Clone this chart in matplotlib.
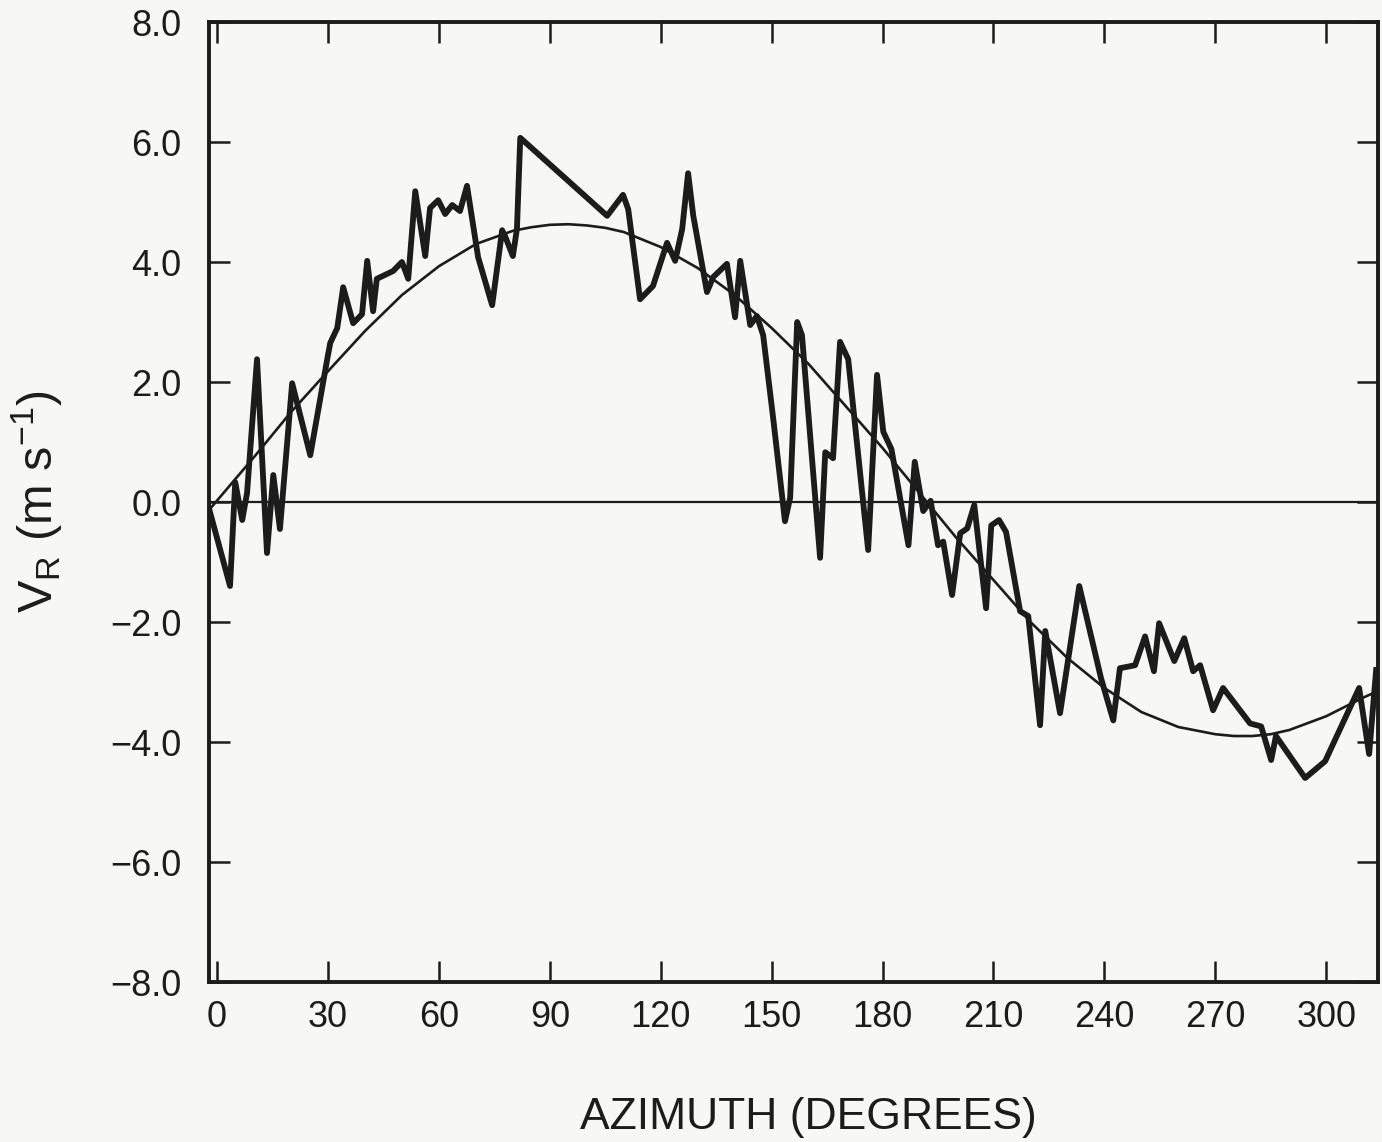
#!/usr/bin/env python3
"""Radial velocity vs. azimuth with a fitted sinusoid."""

import matplotlib
matplotlib.use("Agg")
import matplotlib.pyplot as plt

plt.rcParams["font.family"] = ["Liberation Sans", "DejaVu Sans"]
plt.rcParams["mathtext.fontset"] = "custom"
plt.rcParams["mathtext.rm"] = "Liberation Sans"
plt.rcParams["mathtext.it"] = "Liberation Sans"

INK = "#1c1c1c"
PAPER = "#f7f7f5"

# observed radial velocity along the azimuth sweep (deg, m/s)
obs_az = [
    -2.0, 3.5, 4.9, 6.8, 8.1, 10.8, 13.5, 15.2, 17.0, 20.3, 25.2, 29.7, 30.6,
    32.5, 34.1, 36.8, 39.2, 40.6, 42.2, 43.2, 47.6, 50.0, 51.7, 53.6, 56.3,
    57.6, 59.8, 61.7, 63.6, 65.7, 67.6, 70.6, 74.4, 77.1, 77.9, 80.0, 81.1,
    82.0, 105.5, 109.8, 111.2, 114.4, 117.9, 121.7, 123.9, 125.8, 127.4, 128.8,
    132.5, 134.2, 137.9, 140.1, 141.5, 144.2, 146.0, 147.7, 150.4, 153.6, 155.0,
    156.9, 158.2, 163.1, 164.5, 166.6, 168.5, 170.7, 176.1, 178.5, 180.2, 182.4,
    187.0, 188.7, 191.0, 193.0, 195.0, 196.4, 198.8, 201.0, 202.9, 204.8, 208.0,
    209.4, 211.5, 213.4, 217.2, 219.4, 222.6, 224.0, 228.0, 233.2, 239.1, 242.4,
    244.2, 248.3, 251.0, 253.4, 254.8, 258.9, 261.6, 264.0, 265.9, 269.4, 272.1,
    279.4, 282.4, 285.1, 286.4, 294.3, 299.7, 308.9, 311.6, 313.5,
]
obs_vr = [
    -0.15, -1.4, 0.33, -0.3, 0.15, 2.38, -0.85, 0.45, -0.45, 1.98, 0.78, 2.35,
    2.65, 2.9, 3.58, 2.98, 3.13, 4.02, 3.18, 3.72, 3.85, 4.0, 3.72, 5.18, 4.1,
    4.9, 5.03, 4.8, 4.95, 4.85, 5.27, 4.08, 3.28, 4.53, 4.43, 4.1, 4.55, 6.07,
    4.77, 5.12, 4.88, 3.38, 3.6, 4.32, 4.02, 4.55, 5.48, 4.77, 3.5, 3.75, 3.97,
    3.08, 4.02, 2.95, 3.1, 2.78, 1.4, -0.32, 0.07, 3.0, 2.78, -0.93, 0.83, 0.73,
    2.67, 2.38, -0.8, 2.12, 1.17, 0.88, -0.72, 0.67, -0.15, 0.02, -0.72, -0.66,
    -1.55, -0.52, -0.44, -0.05, -1.77, -0.39, -0.3, -0.5, -1.82, -1.9, -3.72,
    -2.15, -3.52, -1.4, -2.94, -3.64, -2.77, -2.72, -2.24, -2.82, -2.02, -2.65,
    -2.27, -2.82, -2.72, -3.47, -3.1, -3.69, -3.74, -4.3, -3.9, -4.6, -4.32,
    -3.1, -4.2, -2.8,
]

fit_az = [
    -2, 10, 20, 30, 40, 50, 60, 70, 80, 85, 90, 95, 100, 105, 110, 120, 130,
    140, 150, 160, 170, 180, 190, 200, 210, 220, 230, 240, 250, 260, 270, 275,
    280, 285, 290, 300, 310, 314,
]
fit_vr = [
    -0.12, 0.75, 1.5, 2.18, 2.85, 3.45, 3.93, 4.3, 4.52, 4.58, 4.62, 4.63, 4.61,
    4.57, 4.5, 4.25, 3.9, 3.45, 2.9, 2.3, 1.6, 0.9, 0.15, -0.6, -1.3, -2.0,
    -2.6, -3.1, -3.5, -3.75, -3.87, -3.9, -3.9, -3.87, -3.8, -3.57, -3.26, -3.15,
]

x_ticks = [0, 30, 60, 90, 120, 150, 180, 210, 240, 270, 300]
y_ticks = [8, 6, 4, 2, 0, -2, -4, -6, -8]
y_tick_labels = ["8.0", "6.0", "4.0", "2.0", "0.0", "\u22122.0", "\u22124.0", "\u22126.0", "\u22128.0"]


def main():
    fig = plt.figure(figsize=(13.82, 11.42), dpi=100, facecolor=PAPER)
    ax = fig.add_axes([0.1512, 0.1401, 0.8459, 0.8406], facecolor=PAPER)

    ax.axhline(0, color=INK, linewidth=1.6, zorder=1)
    ax.plot(fit_az, fit_vr, color=INK, linewidth=1.9, zorder=2)
    ax.plot(obs_az, obs_vr, color=INK, linewidth=4.2, solid_joinstyle="round", zorder=3)

    ax.set_xlim(-2.2, 314)
    ax.set_ylim(-8, 8)
    ax.set_xticks(x_ticks)
    ax.set_yticks(y_ticks)
    ax.set_yticklabels(y_tick_labels)

    for spine in ax.spines.values():
        spine.set_linewidth(2.8)
        spine.set_color(INK)

    ax.tick_params(axis="both", which="major", direction="in", length=15, width=1.8,
                   color=INK, labelsize=26, labelcolor=INK,
                   top=True, right=True)
    ax.tick_params(axis="x", pad=13)
    ax.tick_params(axis="y", pad=20)

    ax.set_xlabel("AZIMUTH (DEGREES)", fontsize=32, color=INK)
    ax.xaxis.set_label_coords(0.513, -0.12)
    ax.set_ylabel(r"V$_\mathregular{R}$ (m s$^{\mathregular{-1}}$)", fontsize=35, color=INK)
    ax.yaxis.set_label_coords(-0.123, 0.5)

    fig.savefig("out.png", dpi=100, facecolor=PAPER)
    plt.close(fig)


if __name__ == "__main__":
    main()
